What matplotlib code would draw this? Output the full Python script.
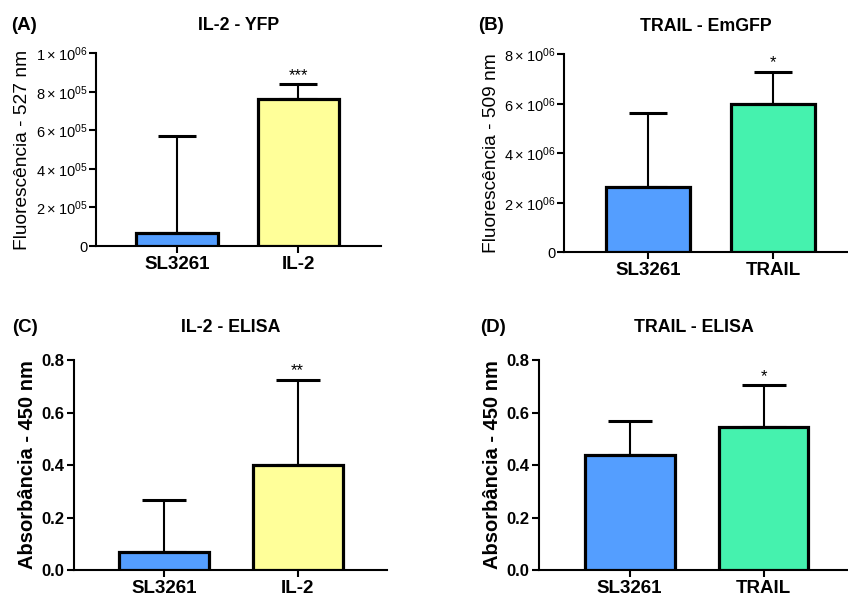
import matplotlib
matplotlib.use("Agg")
import matplotlib.pyplot as plt
from matplotlib.ticker import FixedLocator, FuncFormatter

plt.rcParams['font.family'] = ['Liberation Sans', 'DejaVu Sans']
plt.rcParams['mathtext.fontset'] = 'custom'
plt.rcParams['mathtext.rm'] = 'Liberation Sans'

BLUE = '#549eff'
YELLOW = '#ffff99'
GREEN = '#45f2ae'

# panel data
groups_il2 = ['SL3261', 'IL-2']
groups_trail = ['SL3261', 'TRAIL']

yfp_mean = [6.5e4, 7.63e5]
yfp_err = [5.06e5, 7.6e4]

emgfp_mean = [2.65e6, 5.98e6]
emgfp_err = [2.97e6, 1.32e6]

elisa_il2_mean = [0.070, 0.400]
elisa_il2_err = [0.195, 0.324]

elisa_trail_mean = [0.438, 0.543]
elisa_trail_err = [0.128, 0.160]

stars_yfp = ['', '***']
stars_emgfp = ['', '*']
stars_elisa_il2 = ['', '**']
stars_elisa_trail = ['', '*']


def sci_fmt(v, pos):
    if v == 0:
        return '0'
    exp = 0
    m = v
    while m >= 10:
        m /= 10
        exp += 1
    return r'$\mathregular{%d\times10^{%02d}}$' % (round(m), exp)


def panel(fig, rect, xlim, names, means, errs, stars, colors, ylim, yticks,
          ylabel, title, sci, capsize, tpad):
    ax = fig.add_axes(rect)
    x = list(range(len(names)))
    ax.bar(x, means, width=0.67, color=colors, edgecolor='black',
           linewidth=2.3, zorder=3)
    ax.errorbar(x, means, yerr=[[0] * len(errs), errs], fmt='none',
                ecolor='black', elinewidth=1.5, capsize=capsize,
                capthick=2.2, zorder=2)
    for xi, m, e, s in zip(x, means, errs, stars):
        if s:
            ax.text(xi, m + e + (ylim[1] * 0.008), s, ha='center',
                    va='bottom', fontsize=12)
    ax.set_xlim(*xlim)
    ax.set_ylim(*ylim)
    ax.set_xticks(x)
    ax.set_xticklabels(names, fontsize=13.5, fontweight='bold')
    ax.yaxis.set_major_locator(FixedLocator(yticks))
    for side in ['top', 'right']:
        ax.spines[side].set_visible(False)
    for side in ['left', 'bottom']:
        ax.spines[side].set_linewidth(1.5)
    ax.tick_params(direction='out', length=5, width=1.5, pad=2)
    if sci:
        ax.yaxis.set_major_formatter(FuncFormatter(sci_fmt))
        ax.tick_params(axis='y', labelsize=10.5, pad=1)
        ax.set_ylabel(ylabel, fontsize=13.8, labelpad=3)
    else:
        ax.yaxis.set_major_formatter(FuncFormatter(lambda v, p: '%.1f' % v))
        ax.tick_params(axis='y', labelsize=12)
        for lab in ax.get_yticklabels():
            lab.set_fontweight('bold')
        ax.set_ylabel(ylabel, fontsize=14.5, fontweight='bold', labelpad=3)
    ax.set_title(title, fontsize=12.8, fontweight='bold', pad=tpad)
    return ax


fig = plt.figure(figsize=(8.48, 5.98), dpi=100)

panel(fig, [0.1129, 0.5886, 0.3364, 0.3223], (-0.67, 1.68), groups_il2,
      yfp_mean, yfp_err, stars_yfp, [BLUE, YELLOW], (0, 1e6),
      [0, 2e5, 4e5, 6e5, 8e5, 1e6], 'Fluorescência - 527 nm', 'IL-2 - YFP',
      True, 14, 17)
panel(fig, [0.665, 0.5781, 0.335, 0.3311], (-0.672, 1.596), groups_trail,
      emgfp_mean, emgfp_err, stars_emgfp, [BLUE, GREEN], (0, 8e6),
      [0, 2e6, 4e6, 6e6, 8e6], 'Fluorescência - 509 nm', 'TRAIL - EmGFP',
      True, 14, 17)
panel(fig, [0.0873, 0.0468, 0.3687, 0.3512], (-0.672, 1.665), groups_il2,
      elisa_il2_mean, elisa_il2_err, stars_elisa_il2, [BLUE, YELLOW], (0, 0.8),
      [0, 0.2, 0.4, 0.6, 0.8], 'Absorbância - 450 nm', 'IL-2 - ELISA',
      False, 16, 20)
panel(fig, [0.6356, 0.0468, 0.3644, 0.3512], (-0.678, 1.631), groups_trail,
      elisa_trail_mean, elisa_trail_err, stars_elisa_trail, [BLUE, GREEN],
      (0, 0.8), [0, 0.2, 0.4, 0.6, 0.8], 'Absorbância - 450 nm',
      'TRAIL - ELISA', False, 16, 20)

tags = [('(A)', 0.013, 0.958), ('(B)', 0.564, 0.958),
        ('(C)', 0.014, 0.453), ('(D)', 0.566, 0.453)]
for t, tx, ty in tags:
    fig.text(tx, ty, t, fontsize=13.5, fontweight='bold', ha='left', va='center')

fig.savefig('out.png', dpi=100)
